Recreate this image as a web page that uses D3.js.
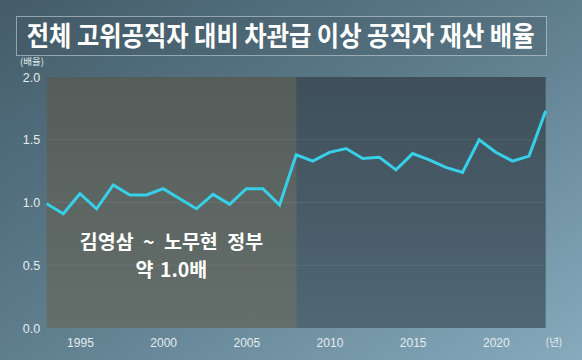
<!DOCTYPE html>
<html><head><meta charset="utf-8">
<script src="https://cdn.jsdelivr.net/npm/d3@7"></script>
<style>html,body{margin:0;padding:0;background:#5a7887;} svg{display:block}</style>
</head><body><svg id="c" width="582" height="360"></svg>
<script>
// ---- data ----
const years = [1993,1994,1995,1996,1997,1998,1999,2000,2001,2002,2003,2004,2005,2006,2007,
               2008,2009,2010,2011,2012,2013,2014,2015,2016,2017,2018,2019,2020,2021,2022,2023];
const ratio = [0.99,0.91,1.07,0.95,1.14,1.06,1.06,1.11,1.03,0.95,1.065,0.985,1.11,1.11,0.98,
               1.38,1.33,1.40,1.43,1.35,1.36,1.26,1.39,1.34,1.28,1.24,1.50,1.40,1.33,1.37,1.73];
const periodStart = [1993, 2008];
const periodEnd   = [2008, 2023];
const xTicks = [1995, 2000, 2005, 2010, 2015, 2020];
const yTicks = [0, 0.5, 1.0, 1.5, 2.0];
const title = "전체 고위공직자 대비 차관급 이상 공직자 재산 배율";
const annot1 = "김영삼 ~ 노무현 정부";
const annot2 = "약 1.0배";
const yUnit = "(배율)";
const xUnit = "(년)";

// ---- layout ----
const W = 582, H = 360;
const svg = d3.select("#c");
const defs = svg.append("defs");

const bg = defs.append("linearGradient").attr("id","bg").attr("x1","0").attr("y1","0").attr("x2","1").attr("y2","1");
bg.append("stop").attr("offset","0").attr("stop-color","#445c69");
bg.append("stop").attr("offset","0.5").attr("stop-color","#5f7e8e");
bg.append("stop").attr("offset","1").attr("stop-color","#86abbd");

const g1 = defs.append("linearGradient").attr("id","p0").attr("x1","0").attr("y1","0").attr("x2","0").attr("y2","1");
g1.append("stop").attr("offset","0").attr("stop-color","#545d5a");
g1.append("stop").attr("offset","1").attr("stop-color","#646e6a");
const g2 = defs.append("linearGradient").attr("id","p1").attr("x1","0").attr("y1","0").attr("x2","0").attr("y2","1");
g2.append("stop").attr("offset","0").attr("stop-color","#3e4f59");
g2.append("stop").attr("offset","1").attr("stop-color","#506774");

svg.append("rect").attr("width",W).attr("height",H).attr("fill","url(#bg)");

const x = d3.scaleLinear().domain([1993, 2023]).range([46.7, 545.7]);
const y = d3.scaleLinear().domain([0, 2]).range([328, 77]);

// period shading
svg.selectAll("rect.period").data(periodStart).join("rect")
  .attr("class","period")
  .attr("x", (d,i) => x(d))
  .attr("width", (d,i) => x(periodEnd[i]) - x(d))
  .attr("y", y(2)).attr("height", y(0) - y(2))
  .attr("fill", (d,i) => `url(#p${i})`);

// gridlines
svg.selectAll("line.grid").data(yTicks.filter(d => d > 0 && d < 2)).join("line")
  .attr("x1", x(1993)).attr("x2", x(2023))
  .attr("y1", d => y(d)).attr("y2", d => y(d))
  .attr("stroke", "rgba(255,255,255,0.07)").attr("stroke-width", 1);

// axes
const font = "'Liberation Sans', Arial, sans-serif";
const xa = svg.append("g").attr("transform", `translate(0,${y(0)})`)
  .call(d3.axisBottom(x).tickValues(xTicks).tickFormat(d3.format("d")).tickSize(0).tickPadding(10));
xa.select(".domain").remove();
xa.selectAll("text").attr("fill","#e4ecf0").style("font-family", font).style("font-size","12px");

const ya = svg.append("g").attr("transform", `translate(${x(1993)},0)`)
  .call(d3.axisLeft(y).tickValues(yTicks).tickFormat(d3.format(".1f")).tickSize(0).tickPadding(6.5));
ya.select(".domain").remove();
ya.selectAll("text").attr("fill","#e4ecf0").style("font-family", font).style("font-size","12.5px");

svg.append("text").attr("x", 32).attr("y", 65).attr("text-anchor","middle")
  .attr("fill","#e4ecf0").style("font-family","'Noto Sans CJK KR', sans-serif").style("font-size","9.5px").text(yUnit);
svg.append("text").attr("x", 554).attr("y", 346).attr("text-anchor","middle")
  .attr("fill","#e4ecf0").style("font-family","'Noto Sans CJK KR', sans-serif").style("font-size","10.5px").text(xUnit);

// line
const line = d3.line().x((d,i) => x(years[i])).y(d => y(d));
svg.append("path").datum(ratio).attr("d", line)
  .attr("fill","none").attr("stroke","#38cfe8").attr("stroke-width",3).attr("stroke-linejoin","miter");

// annotation
const ax = (x(periodStart[0]) + x(periodEnd[0])) / 2;
svg.append("text").attr("x", ax).attr("y", 248.5).attr("text-anchor","middle")
  .attr("fill","#ffffff").style("font-family","'Noto Sans CJK KR', sans-serif").style("font-weight","700")
  .style("font-size","19.5px").style("word-spacing","5px").text(annot1);
svg.append("text").attr("x", ax).attr("y", 277).attr("text-anchor","middle")
  .attr("fill","#ffffff").style("font-family","'Noto Sans CJK KR', sans-serif").style("font-weight","700")
  .style("font-size","19.5px").style("word-spacing","2px").text(annot2);

// title
svg.append("rect").attr("x",16.5).attr("y",16.5).attr("width",530).attr("height",39)
  .attr("fill","rgba(60,80,92,0.25)").attr("stroke","rgba(210,222,228,0.55)").attr("stroke-width",1);
const tg = svg.append("g");
const tt = tg.append("text").attr("x", 0).attr("y", 0)
  .attr("fill","#ffffff").style("font-family","'Noto Sans CJK KR', sans-serif").style("font-weight","700")
  .style("font-size","27px").text(title);
const natural = tt.node().getComputedTextLength();
tg.attr("transform", `translate(26.7,46) scale(${508 / natural},1)`);
</script>
</body></html>
